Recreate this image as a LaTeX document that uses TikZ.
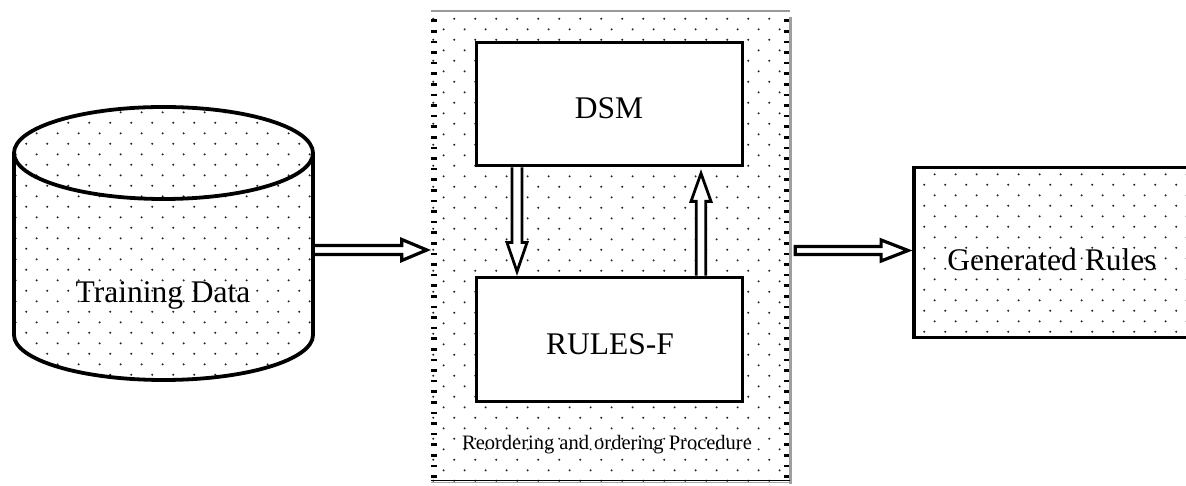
\documentclass[tikz,border=0pt]{standalone}
\usepackage{fontspec}
\setmainfont{Liberation Serif}
\usetikzlibrary{patterns,calc}
\pgfdeclarepatternformonly{sdots}{\pgfqpoint{0pt}{0pt}}{\pgfqpoint{21.4pt}{21.4pt}}{\pgfqpoint{21.4pt}{21.4pt}}{%
  \pgfpathcircle{\pgfqpoint{5.35pt}{5.35pt}}{1.15pt}%
  \pgfpathcircle{\pgfqpoint{16.05pt}{16.05pt}}{1.15pt}%
  \pgfusepath{fill}}
\begin{document}
\begin{tikzpicture}[x=1pt,y=1pt,
  thickbox/.style={draw=black, line width=3.8pt, inner sep=0pt},
  dotarea/.style={pattern=sdots, pattern color=black!85},
  hollow/.style={draw=black, line width=2.8pt, fill=white, line join=miter},
  bigtxt/.style={font=\fontsize{31.5}{36}\selectfont, inner sep=0pt, anchor=base},
  smalltxt/.style={font=\fontsize{20.5}{24}\selectfont, inner sep=0pt, anchor=base},
  edgedash/.style={black, line width=6pt, dash pattern=on 2.6pt off 8pt}]
\useasboundingbox (0,0) rectangle (1186,486);
\clip (0,0) rectangle (1186,486);
\fill[white] (0,0) rectangle (1186,486);

% procedure box
\node[minimum width=359pt, minimum height=472pt, inner sep=0pt, dotarea] (proc) at (610.5,239) {};
\draw[edgedash] (434,466.6) -- (434,4);
\draw[edgedash] (786.5,466.6) -- (786.5,4);
\draw[gray!80, line width=1.6pt] (proc.north west) -- (proc.north east);
\draw[gray!75, line width=3pt] (790.5,469) -- (790.5,2);
\draw[black, line width=1.3pt] (431,5.5) -- (790,5.5);
\draw[gray!70, line width=1.3pt] (431,3.3) -- (790,3.3);

\node[thickbox, fill=white, minimum width=266pt, minimum height=123pt] (dsm) at (609.5,382) {};
\node[thickbox, fill=white, minimum width=266pt, minimum height=124pt] (rules) at (609.5,146.5) {};
\node[bigtxt] (dsmlbl) at (609,367) {DSM};
\node[bigtxt] (ruleslbl) at (610,131) {RULES-F};
\node[smalltxt] (proclbl) at (607,36.5) {Reordering and ordering Procedure};

% inner arrows
\coordinate (d1) at ($(dsm.south)+(-92.5,0)$);
\coordinate (d2) at ($(rules.north)+(-92.5,4)$);
\draw[hollow] ($(d1)+(-5,0)$) -- ($(d2)+(-5,29)$) -- ($(d2)+(-10,29)$) -- (d2) -- ($(d2)+(10,29)$) -- ($(d2)+(5,29)$) -- ($(d1)+(5,0)$);
\coordinate (u1) at ($(rules.north)+(91.5,0)$);
\coordinate (u2) at ($(dsm.south)+(91.5,-6)$);
\draw[hollow] ($(u1)+(-4.7,0)$) -- ($(u2)+(-4.7,-28)$) -- ($(u2)+(-10,-28)$) -- (u2) -- ($(u2)+(10,-28)$) -- ($(u2)+(4.7,-28)$) -- ($(u1)+(4.7,0)$);

% cylinder
\node[minimum width=299pt, minimum height=272pt, inner sep=0pt] (cyl) at (163.5,242) {};
\path[dotarea] (14,333) -- (14,151) arc[start angle=180, end angle=360, x radius=149.5, y radius=45]
  -- (313,333) arc[start angle=0, end angle=180, x radius=149.5, y radius=46] -- cycle;
\draw[line width=3.8pt] (14,333) -- (14,151) arc[start angle=180, end angle=360, x radius=149.5, y radius=45]
  -- (313,333) arc[start angle=0, end angle=360, x radius=149.5, y radius=46];
\node[bigtxt] (cyllbl) at (163,183) {Training Data};

% generated rules
\node[thickbox, dotarea, minimum width=286pt, minimum height=170pt] (gen) at (1057,233.5) {};
\node[bigtxt] (genlbl) at (1052,215.3) {Generated Rules};

% outer arrows
\coordinate (a1s) at ($(cyl.east)+(0,-6)$);
\coordinate (a1e) at ($(proc.west)+(-4,-3)$);
\draw[hollow, line width=3.2pt] ($(a1s)+(0,4.5)$) -- ($(a1e)+(-25,4.5)$) -- ($(a1e)+(-25,10.5)$) -- (a1e) -- ($(a1e)+(-25,-10.5)$) -- ($(a1e)+(-25,-4.5)$) -- ($(a1s)+(0,-4.5)$) -- cycle;
\coordinate (a2s) at ($(proc.east)+(5,-3.5)$);
\coordinate (a2e) at ($(gen.west)+(-4,2)$);
\draw[hollow, line width=3.2pt] ($(a2s)+(0,4)$) -- ($(a2e)+(-27,4)$) -- ($(a2e)+(-27,10.5)$) -- (a2e) -- ($(a2e)+(-27,-10.5)$) -- ($(a2e)+(-27,-4)$) -- ($(a2s)+(0,-4)$) -- cycle;
\end{tikzpicture}
\end{document}
